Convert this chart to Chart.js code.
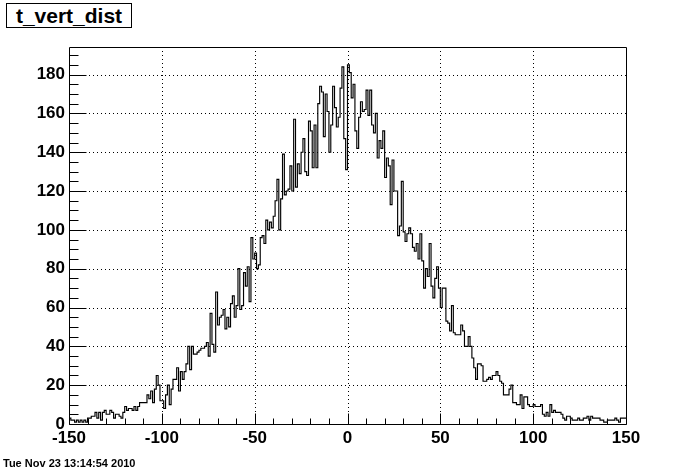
<!DOCTYPE html>
<html>
<head>
<meta charset="utf-8">
<script src="https://cdn.jsdelivr.net/npm/chart.js@4/dist/chart.umd.min.js"></script>
<style>
  body { margin: 0; background: #fff; }
  #wrap { position: relative; width: 696px; height: 472px; }
  #chart { position: absolute; left: 0; top: 0; }
  #title {
    position: absolute; left: 6px; top: 3px; width: 124px; height: 23px;
    border: 1px solid #000; background: #fff; text-align: center;
    font: bold 21px "Liberation Sans", Arial, sans-serif; line-height: 23px;
  }
  #stamp {
    position: absolute; left: 3px; top: 457px;
    font: bold 11px "Liberation Sans", Arial, sans-serif;
  }
</style>
</head>
<body>
<div id="wrap">
  <canvas id="chart" width="696" height="472"></canvas>
  <div id="title">t_vert_dist</div>
  <div id="stamp">Tue Nov 23 13:14:54 2010</div>
</div>
<script>
// histogram t_vert_dist: 300 bins of width 1 from -150 to 150
const binLow = -150;
const binWidth = 1;
const counts = [
  3, 2, 2, 1, 2, 1, 2, 1, 2, 1,           // -150 .. -141
  3, 3, 4, 4, 6, 3, 6, 2, 6, 7,           // -140 .. -131
  5, 5, 7, 6, 3, 5, 5, 4, 3, 6,           // -130 .. -121
  9, 7, 8, 8, 7, 9, 7, 9, 11, 11,         // -120 .. -111
  11, 11, 15, 13, 17, 11, 18, 25, 20, 12, // -110 .. -101
  12, 8, 15, 20, 10, 18, 23, 23, 29, 17,  // -100 .. -91
  27, 23, 27, 31, 40, 28, 40, 36, 36, 37, // -90 .. -81
  38, 39, 39, 40, 42, 35, 57, 41, 37, 68, // -80 .. -71
  51, 55, 56, 59, 49, 55, 50, 62, 66, 55, // -70 .. -61
  61, 80, 59, 61, 78, 71, 81, 63, 96, 85, // -60 .. -51
  88, 80, 82, 96, 97, 93, 105, 100, 104, 101,     // -50 .. -41
  107, 115, 126, 100, 116, 139, 118, 120, 121, 133, // -40 .. -31
  120, 157, 122, 134, 129, 140, 147, 130, 128, 156, // -30 .. -21
  151, 132, 154, 132, 165, 174, 171, 148, 170, 161, // -20 .. -11
  140, 154, 174, 163, 153, 158, 173, 184, 147, 131, // -10 .. -1
  185, 181, 168, 175, 151, 142, 158, 166, 161, 162, // 0 .. 9
  172, 159, 172, 154, 150, 160, 137, 146, 142, 151, // 10 .. 19
  127, 137, 133, 113, 136, 120, 120, 97, 102, 125,  // 20 .. 29
  99, 94, 98, 101, 98, 91, 89, 93, 85, 98,  // 30 .. 39
  84, 70, 80, 76, 93, 71, 65, 75, 81, 70,   // 40 .. 49
  60, 70, 70, 53, 52, 48, 61, 47, 46, 46,   // 50 .. 59
  46, 51, 48, 40, 40, 45, 40, 34, 29, 23,   // 60 .. 69
  31, 31, 30, 22, 22, 23, 24, 23, 25, 25,   // 70 .. 79
  27, 25, 22, 21, 15, 15, 15, 18, 20, 11,   // 80 .. 89
  11, 10, 10, 15, 8, 14, 14, 10, 9, 9,      // 90 .. 99
  10, 9, 9, 9, 10, 5, 4, 6, 4, 10,          // 100 .. 109
  6, 7, 6, 6, 6, 5, 3, 2, 4, 4,             // 110 .. 119
  3, 2, 2, 2, 3, 2, 2, 3, 3, 4,             // 120 .. 129
  2, 4, 3, 3, 3, 3, 2, 2, 1, 1,             // 130 .. 139
  2, 2, 2, 2, 3, 2, 1, 3, 3, 3              // 140 .. 149
];
const xTicks = [-150, -100, -50, 0, 50, 100, 150];
const yTicks = [0, 20, 40, 60, 80, 100, 120, 140, 160, 180];
const yMax = 194.2;

const xMin = binLow;
const xMax = binLow + counts.length * binWidth;

// step outline: one point per bin low edge, closing point at the upper edge
const points = counts.map((c, i) => ({ x: binLow + i * binWidth, y: c }));
points.push({ x: xMax, y: counts[counts.length - 1] });

const FONT = '"Liberation Sans", Arial, sans-serif';

// ROOT style frame: dotted grid, solid box, ticks inside
const rootFrame = {
  id: 'rootFrame',
  beforeDatasetsDraw(chart) {
    const { ctx, chartArea: a, scales: { x, y } } = chart;
    ctx.save();
    ctx.strokeStyle = '#000';
    ctx.lineWidth = 1;
    ctx.setLineDash([1, 3]);
    ctx.beginPath();
    x.ticks.forEach(t => {
      const px = Math.round(x.getPixelForValue(t.value)) + 0.5;
      if (px > a.left + 1 && px < a.right - 1) {
        ctx.moveTo(px, a.top);
        ctx.lineTo(px, a.bottom);
      }
    });
    y.ticks.forEach(t => {
      const py = Math.round(y.getPixelForValue(t.value)) + 0.5;
      if (py > a.top + 1 && py < a.bottom - 1) {
        ctx.moveTo(a.left, py);
        ctx.lineTo(a.right, py);
      }
    });
    ctx.stroke();
    ctx.restore();
  },
  afterDraw(chart) {
    const { ctx, chartArea: a, scales: { x, y } } = chart;
    const l = Math.round(a.left) + 0.5, r = Math.round(a.right) + 0.5;
    const t = Math.round(a.top) + 0.5, b = Math.round(a.bottom) + 0.5;
    ctx.save();
    ctx.strokeStyle = '#000';
    ctx.lineWidth = 1;
    ctx.beginPath();
    ctx.rect(l, t, r - l, b - t);
    // x ticks: major 50, minor 10
    for (let v = xMin; v <= xMax; v += 10) {
      const px = Math.round(x.getPixelForValue(v)) + 0.5;
      const len = (v % 50 === 0) ? 11 : 6;
      ctx.moveTo(px, b);
      ctx.lineTo(px, b - len);
    }
    // y ticks: major 20, minor 5
    for (let v = 0; v <= yMax; v += 5) {
      const py = Math.round(y.getPixelForValue(v)) + 0.5;
      const len = (v % 20 === 0) ? 17 : 9;
      ctx.moveTo(l, py);
      ctx.lineTo(l + len, py);
    }
    ctx.stroke();
    ctx.restore();
  }
};

new Chart(document.getElementById('chart'), {
  type: 'line',
  data: {
    datasets: [{
      data: points,
      stepped: true,
      borderColor: '#000',
      borderWidth: 1.15,
      pointRadius: 0,
      fill: false,
    }],
  },
  options: {
    responsive: false,
    animation: false,
    layout: { padding: { left: 0, top: 47, right: 70, bottom: 0 } },
    plugins: { legend: { display: false }, tooltip: { enabled: false } },
    scales: {
      x: {
        type: 'linear',
        min: xMin,
        max: xMax,
        grid: { display: false, drawTicks: false },
        border: { display: false },
        afterBuildTicks: (s) => { s.ticks = xTicks.map(v => ({ value: v })); },
        afterFit: (s) => { s.height = 48; },
        ticks: {
          color: '#000',
          font: { family: FONT, size: 17, weight: 'bold' },
          padding: 4,
          maxRotation: 0,
          autoSkip: false,
          callback: (v) => String(v),
        },
      },
      y: {
        min: 0,
        max: yMax,
        grid: { display: false, drawTicks: false },
        border: { display: false },
        afterBuildTicks: (s) => { s.ticks = yTicks.map(v => ({ value: v })); },
        afterFit: (s) => { s.width = 69; },
        ticks: {
          color: '#000',
          font: { family: FONT, size: 17, weight: 'bold' },
          padding: 4,
          callback: (v) => String(v),
        },
      },
    },
  },
  plugins: [rootFrame],
});
</script>
</body>
</html>
